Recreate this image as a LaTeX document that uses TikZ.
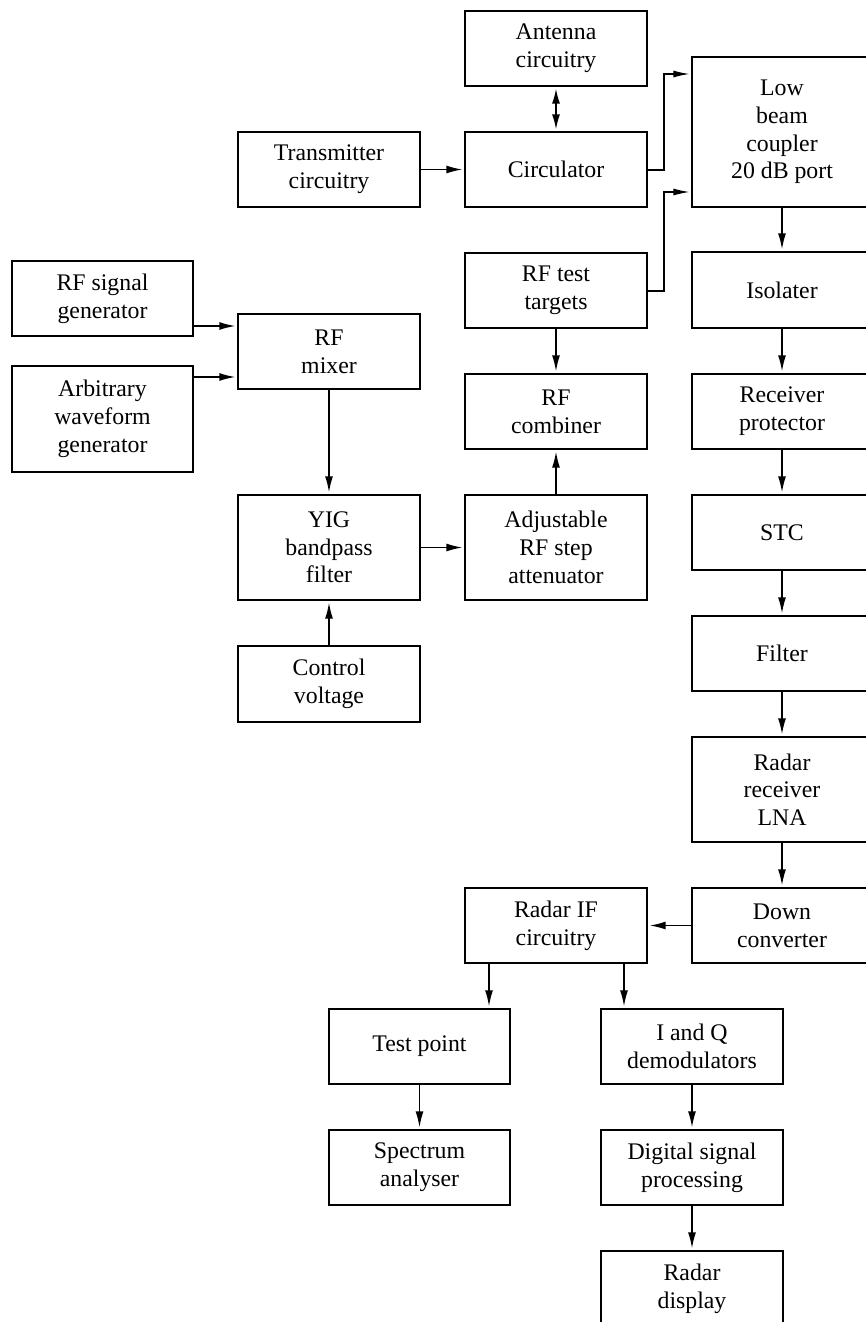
\documentclass[tikz,border=0pt]{standalone}
\usepackage{fontspec}
\setmainfont{Liberation Serif}
\usetikzlibrary{arrows.meta}
\begin{document}
\begin{tikzpicture}[x=1pt,y=-1pt,
  blk/.style={draw, line width=1.3pt, inner sep=0pt, align=center,
    font=\fontsize{23.8}{27.7}\selectfont},
  w182/.style={minimum width=182pt},
  w180/.style={minimum width=180pt},
  h75/.style={minimum height=75pt},
  h105/.style={minimum height=105pt},
  arr/.style={line width=1.5pt, -{Latex[length=16pt,width=8pt]}, shorten >=2pt},
  darr/.style={line width=1.5pt, {Latex[length=15pt,width=8pt]}-{Latex[length=15pt,width=8pt]}, shorten >=2pt, shorten <=2pt},
  thin arr/.style={line width=1.1pt, -{Latex[length=16pt,width=7pt]}, shorten >=2pt}
]
\useasboundingbox (0,0) rectangle (866,1322);
\clip (0,0) rectangle (866,1322);

% middle column
\node[blk,w182,h75] (ant) at (556,48.5) {Antenna\\circuitry};
\node[blk,w182,h75] (circ) at (556,169.5) {Circulator};
\node[blk,w182,h75] (tgt) at (556,290.5) {RF test\\targets};
\node[blk,w182,h75] (comb) at (556,411.5) {RF\\combiner};
\node[blk,w182,h105] (att) at (556,547.5) {Adjustable\\RF step\\attenuator};

% left-middle column
\node[blk,w182,h75] (trans) at (329,169.5) {Transmitter\\circuitry};
\node[blk,w182,h75] (mix) at (329,351.5) {RF\\mixer};
\node[blk,w182,h105] (yig) at (329,547.5) {YIG\\bandpass\\filter};
\node[blk,w182,minimum height=76pt] (ctrl) at (329,684) {Control\\voltage};

% left column
\node[blk,minimum width=181pt,h75] (rfsig) at (102.5,298.5) {RF signal\\generator};
\node[blk,minimum width=181pt,minimum height=106pt] (arb) at (102.5,419) {Arbitrary\\waveform\\generator};

% right column
\node[blk,w180,minimum height=150pt] (low) at (782,132) {Low\\beam\\coupler\\20 dB port};
\node[blk,w180,minimum height=76pt] (iso) at (782,290) {Isolater};
\node[blk,w180,h75] (prot) at (782,411.5) {Receiver\\protector};
\node[blk,w180,h75] (stc) at (782,532.5) {STC};
\node[blk,w180,h75] (filt) at (782,653.5) {Filter};
\node[blk,w180,h105] (lna) at (782,789.5) {Radar\\receiver\\LNA};
\node[blk,w180,h75] (down) at (782,925.5) {Down\\converter};

% bottom
\node[blk,w182,h75] (ifc) at (556,925.5) {Radar IF\\circuitry};
\node[blk,minimum width=181pt,h75] (tp) at (419.5,1046.5) {Test point};
\node[blk,w182,h75] (iq) at (692,1046.5) {I and Q\\demodulators};
\node[blk,minimum width=181pt,h75] (spec) at (419.5,1167.5) {Spectrum\\analyser};
\node[blk,w182,h75] (dsp) at (692,1167.5) {Digital signal\\processing};
\node[blk,w182,h75] (disp) at (692,1288.5) {Radar\\display};

% helper coordinates
\coordinate (jx) at (664,0);
\coordinate (ya) at (0,74);
\coordinate (yb) at (0,192);
\coordinate (yc) at (0,170);
\coordinate (yd) at (0,291);
\coordinate (ys) at (0,326);
\coordinate (yw) at (0,377);
\coordinate (xl) at (489,0);
\coordinate (xr) at (624,0);

% connectors
\draw[darr] (ant.south) -- (circ.north);
\draw[arr] (trans.east) -- (circ.west);
\draw[thin arr] (circ.east |- yc) -- (jx |- yc) -- (jx |- ya) -- (low.west |- ya);
\draw[thin arr] (tgt.east |- yd) -- (jx |- yd) -- (jx |- yb) -- (low.west |- yb);
\draw[arr] (tgt.south) -- (comb.north);
\draw[arr] (att.north) -- (comb.south);
\draw[arr] (rfsig.east |- ys) -- (mix.west |- ys);
\draw[arr] (arb.east |- yw) -- (mix.west |- yw);
\draw[arr] (mix.south) -- (yig.north);
\draw[arr] (ctrl.north) -- (yig.south);
\draw[arr] (yig.east) -- (att.west);
\draw[arr] (low.south) -- (iso.north);
\draw[arr] (iso.south) -- (prot.north);
\draw[arr] (prot.south) -- (stc.north);
\draw[arr] (stc.south) -- (filt.north);
\draw[arr] (filt.south) -- (lna.north);
\draw[arr] (lna.south) -- (down.north);
\draw[arr] (down.west) -- (ifc.east);
\draw[arr] (xl |- ifc.south) -- (xl |- tp.north);
\draw[arr] (xr |- ifc.south) -- (xr |- iq.north);
\draw[arr] (tp.south) -- (spec.north);
\draw[arr] (iq.south) -- (dsp.north);
\draw[arr] (dsp.south) -- (disp.north);
\end{tikzpicture}
\end{document}
